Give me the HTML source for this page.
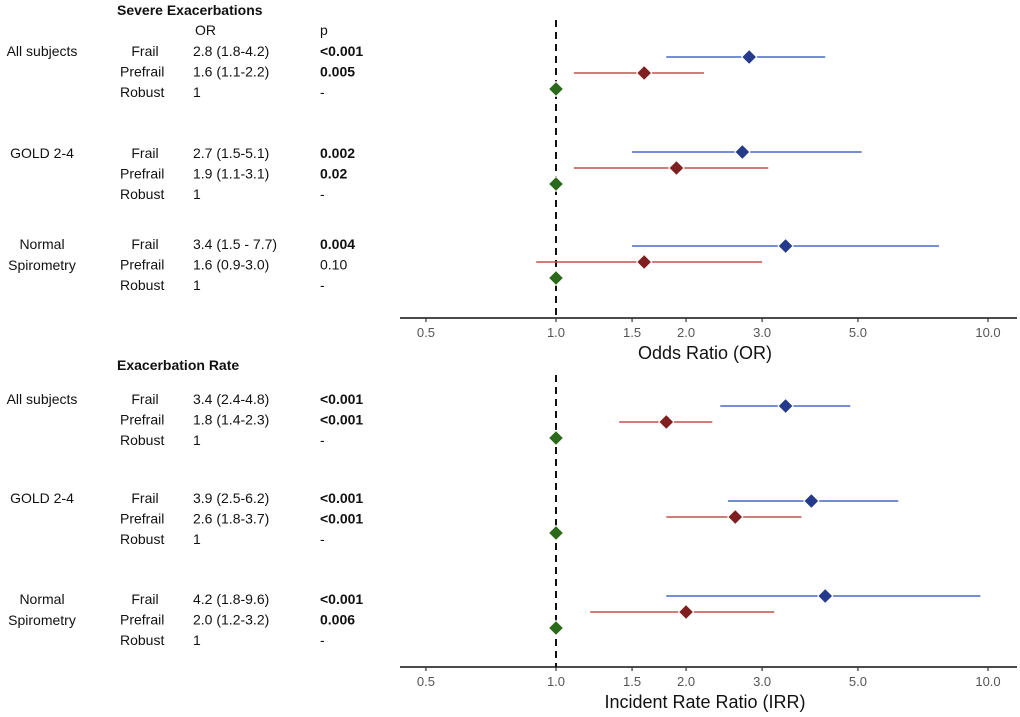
<!DOCTYPE html>
<html><head><meta charset="utf-8"><style>
body{margin:0;background:#fff;}
svg{display:block;font-family:"Liberation Sans",sans-serif;}
.t{font-size:14px;fill:#111;}
.b{font-weight:bold;}
.tick{font-size:13px;fill:#555;}
</style></head><body>
<svg id="chart" width="1020" height="717" viewBox="0 0 1020 717"></svg>
<script>
// ---- data ----
const groups = ["All subjects", "GOLD 2-4", "Normal\nSpirometry"];
const categories = ["Frail", "Prefrail", "Robust"];
// Panel 1: Severe exacerbations (OR)
const orEst = [[2.8,1.6,1],[2.7,1.9,1],[3.4,1.6,1]];
const orLo  = [[1.8,1.1,1],[1.5,1.1,1],[1.5,0.9,1]];
const orHi  = [[4.2,2.2,1],[5.1,3.1,1],[7.7,3.0,1]];
const orTxt = [["2.8 (1.8-4.2)","1.6 (1.1-2.2)","1"],["2.7 (1.5-5.1)","1.9 (1.1-3.1)","1"],["3.4 (1.5 - 7.7)","1.6 (0.9-3.0)","1"]];
const orP   = [["<0.001","0.005","-"],["0.002","0.02","-"],["0.004","0.10","-"]];
const orPBold = [[1,1,0],[1,1,0],[1,0,0]];
// Panel 2: Exacerbation rate (IRR)
const irrEst = [[3.4,1.8,1],[3.9,2.6,1],[4.2,2.0,1]];
const irrLo  = [[2.4,1.4,1],[2.5,1.8,1],[1.8,1.2,1]];
const irrHi  = [[4.8,2.3,1],[6.2,3.7,1],[9.6,3.2,1]];
const irrTxt = [["3.4 (2.4-4.8)","1.8 (1.4-2.3)","1"],["3.9 (2.5-6.2)","2.6 (1.8-3.7)","1"],["4.2 (1.8-9.6)","2.0 (1.2-3.2)","1"]];
const irrP   = [["<0.001","<0.001","-"],["<0.001","<0.001","-"],["<0.001","0.006","-"]];
const irrPBold = [[1,1,0],[1,1,0],[1,1,0]];
const tickVals = [0.5,1.0,1.5,2.0,3.0,5.0,10.0];
const tickLabels = ["0.5","1.0","1.5","2.0","3.0","5.0","10.0"];

const NS="http://www.w3.org/2000/svg";
const svg=document.getElementById('chart');
function mk(tag,attrs,parent){const e=document.createElementNS(NS,tag);for(const k in attrs)e.setAttribute(k,attrs[k]);(parent||svg).appendChild(e);return e;}
const xScale=v=>556+432*Math.log10(v);
const lineCol=["#4a68c4","#c0504d","#2b6a1a"];
const dotCol=["#253a8a","#7f1f1f","#2b6a1a"];

function panel(cfg){
  const g=mk('g',{});
  
  
  let tt=mk('text',{x:117,y:cfg.titleY,class:'t b'},g);tt.textContent=cfg.title;
  
  if(cfg.head){
    let h1=mk('text',{x:195,y:35,class:'t'},g);h1.textContent="OR";
    
    let h2=mk('text',{x:320,y:35,class:'t'},g);h2.textContent="p";
    
  }
  let ref=mk('line',{x1:xScale(1),x2:xScale(1),y1:cfg.refTop,y2:cfg.axisY,stroke:'#111','stroke-width':2,'stroke-dasharray':'7,5'},g);
  
  groups.forEach((gn,gi)=>{
    const y0=cfg.rowY[gi];
    const ty0=cfg.textY[gi];
    gn.split("\n").forEach((ln,li)=>{
      let t=mk('text',{x:42,y:ty0+5+li*21,class:'t','text-anchor':'middle'},g);t.textContent=ln;
      
    });
    categories.forEach((c,ci)=>{
      const y=y0+ci*16;
      const ty=ty0+ci*20.5+5;
      let ct=mk('text',{x:ci==0?145:120,y:ty,class:'t','text-anchor':ci==0?'middle':'start'},g);ct.textContent=c;
      
      let ot=mk('text',{x:193,y:ty,class:'t'},g);ot.textContent=cfg.txt[gi][ci];
      
      let pt=mk('text',{x:320,y:ty,class:'t'+(cfg.pb[gi][ci]?' b':'')},g);pt.textContent=cfg.p[gi][ci];
      
      if(cfg.lo[gi][ci]!==cfg.hi[gi][ci]){
        let ci_=mk('line',{x1:xScale(cfg.lo[gi][ci]),x2:xScale(cfg.hi[gi][ci]),y1:y,y2:y,stroke:lineCol[ci],'stroke-width':1.6},g);
        
      }
      const x=xScale(cfg.est[gi][ci]);
      let d=mk('path',{d:`M${x} ${y-7.5}L${x+7.5} ${y}L${x} ${y+7.5}L${x-7.5} ${y}Z`,fill:dotCol[ci],stroke:'#fff','stroke-width':1},g);
      
    });
  });
  let ax=mk('line',{x1:400,x2:1017,y1:cfg.axisY,y2:cfg.axisY,stroke:'#111','stroke-width':1.6},g);
  
  tickVals.forEach((v,i)=>{
    const x=xScale(v);
    let tk=mk('line',{x1:x,x2:x,y1:cfg.axisY,y2:cfg.axisY+4,stroke:'#333','stroke-width':1.2},g);
    
    let tl=mk('text',{x:x,y:cfg.axisY+19,class:'tick','text-anchor':'middle'},g);tl.textContent=tickLabels[i];
    
  });
  let at=mk('text',{x:705,y:cfg.axisY+41,'font-size':'18','fill':'#111','text-anchor':'middle'},g);at.textContent=cfg.axisTitle;
  
}
panel({name:'severe-exacerbations-panel',title:'Severe Exacerbations',head:true,titleY:15,refTop:20,axisY:318,rowY:[57,152,246],textY:[51,153,244],
  est:orEst,lo:orLo,hi:orHi,txt:orTxt,p:orP,pb:orPBold,axisTitle:'Odds Ratio (OR)'});
panel({name:'exacerbation-rate-panel',title:'Exacerbation Rate',head:false,titleY:370,refTop:375,axisY:667,rowY:[406,501,596],textY:[399,498,599],
  est:irrEst,lo:irrLo,hi:irrHi,txt:irrTxt,p:irrP,pb:irrPBold,axisTitle:'Incident Rate Ratio (IRR)'});
</script>
</body></html>
